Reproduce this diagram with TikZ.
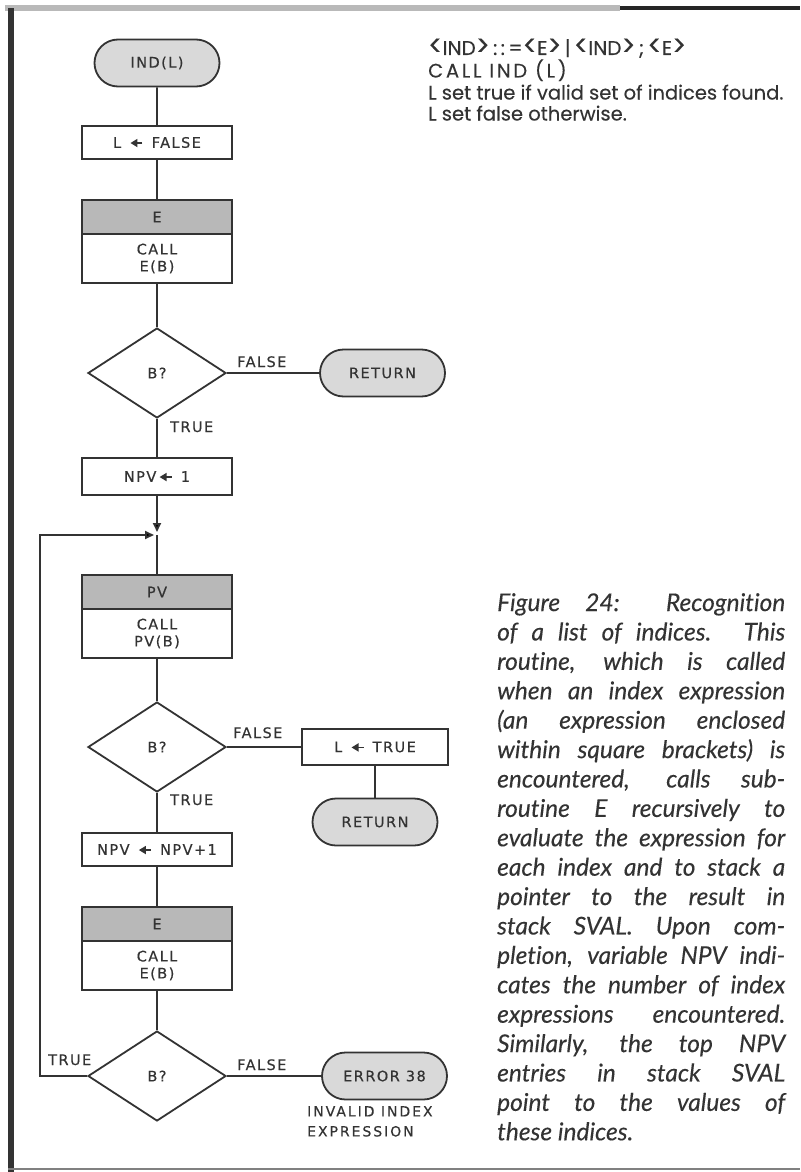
\documentclass[tikz,border=0pt]{standalone}
\usepackage{fontspec}
\usepackage{graphicx}
\usetikzlibrary{shapes.geometric,shapes.misc,arrows.meta}

\newfontfamily\chartfont{DejaVu Sans}[LetterSpace=10, FakeBold=0.4]
\newfontfamily\headfont{Poppins}[FakeBold=0.3]
\newfontfamily\capfont{Lato}[Ligatures=NoCommon, FakeBold=0.2]

\definecolor{ink}{gray}{0.2}
\definecolor{termgray}{gray}{0.85}
\definecolor{headgray}{gray}{0.72}

% small filled arrow used inside the boxes
\newcommand{\assign}{\,\tikz[baseline=-0.6ex]\draw[ink,line width=1.6pt,-{Triangle[length=7pt,width=8pt]}] (12pt,0pt) -- (0pt,0pt);\,}
% big angle brackets of the syntax line
\newcommand{\lang}{\raisebox{-0.04em}{\scalebox{1.3}[1.45]{<}}}
\newcommand{\rang}{\raisebox{-0.04em}{\scalebox{1.3}[1.45]{>}}}

\tikzset{
	chart/.style={font=\chartfont\fontsize{14.5}{17}\selectfont, text=ink},
	flow/.style={draw=ink, line width=1.8pt},
	proc/.style={chart, flow, fill=white, rectangle, minimum width=150pt, minimum height=35pt, inner sep=0pt, align=center},
	callhead/.style={proc, fill=headgray, minimum height=34pt},
	callbody/.style={proc, minimum height=49pt},
	term/.style={chart, flow, fill=termgray, rounded rectangle, minimum width=125pt, minimum height=47pt, inner sep=0pt},
	test/.style={chart, flow, fill=white, diamond, minimum width=138pt, minimum height=90pt, inner sep=0pt},
	flag/.style={chart, inner sep=0pt, anchor=base west},
	head/.style={font=\headfont\fontsize{19.5}{21}\selectfont, text=ink, inner sep=0pt, anchor=base west},
	tip/.style={-{Triangle[length=9pt,width=8pt]}, shorten >=3pt}
}

\begin{document}
\begin{tikzpicture}[x=1pt, y=-1pt]

	\fill[white] (0,0) rectangle (800,1172);
	% frame
	\fill[gray!55] (5,5) rectangle (620,11);
	\fill[black!85] (620,6) rectangle (800,10);
	\fill[black!80] (8,8) rectangle (14,1172);
	\draw[gray, line width=1.5pt] (8,1169) -- (800,1169);

	% header text
	\node[head, font=\headfont\fontsize{20}{21}\selectfont] (gram) at (428,55) {\lang IND\rang\,:\,:\,=\lang E\rang\,|\,\lang IND\rang\,;\,\lang E\rang};
	\node[head, font=\headfont\fontsize{19.5}{21}\selectfont\addfontfeature{LetterSpace=14}] (callind) at (428,77.5) {CALL IND (L)};
	\node[head] (noteone) at (428,99.5) {L set true if valid set of indices found.};
	\node[head] (notetwo) at (428,120.5) {L set false otherwise.};

	% first part
	\node[term] (start) at (157,63) {IND(L)};
	\node[proc, minimum height=33pt] (lfalse) at (157,142.5) {L \assign\ FALSE};
	\node[callhead] (ehead) at (157,217) {E};
	\node[callbody] (ecall) at (157,258.5) {CALL\\E(B)};
	\node[test] (bone) at (157,373) {B?};
	\node[term] (retone) at (382.5,373) {RETURN};
	\node[proc, minimum height=37pt] (npvone) at (157,476.5) {NPV\assign\ 1};
	\node[flag] (fone) at (237,367) {FALSE};
	\node[flag] (tone) at (170,432) {TRUE};
	\coordinate (merge) at (157,535);

	% loop
	\node[callhead] (pvhead) at (157,592) {PV};
	\node[callbody] (pvcall) at (157,633.5) {CALL\\PV(B)};
	\node[test] (btwo) at (157,747) {B?};
	\node[proc, minimum width=146pt, minimum height=36pt] (ltrue) at (375,747) {L \assign\ TRUE};
	\node[term] (rettwo) at (375,822) {RETURN};
	\node[flag] (ftwo) at (233,738) {FALSE};
	\node[flag] (ttwo) at (170,805) {TRUE};
	\node[proc, minimum height=33pt] (npvinc) at (157,849.5) {NPV \assign\ NPV+1};
	\node[callhead] (ehtwo) at (157,924) {E};
	\node[callbody] (ectwo) at (157,965.5) {CALL\\E(B)};
	\node[test] (bthree) at (157,1076) {B?};
	\node[term] (err) at (384.5,1076) {ERROR 38};
	\node[flag] (tthree) at (48,1065) {TRUE};
	\node[flag] (fthree) at (237,1070) {FALSE};
	\node[chart, align=left, inner sep=0pt, anchor=north west, font=\chartfont\fontsize{14}{20}\selectfont\addfontfeature{LetterSpace=14}] (errtext) at (307,1106) {INVALID INDEX\\EXPRESSION};

	% connectors
	\draw[flow] (start) -- (lfalse);
	\draw[flow] (lfalse) -- (ehead);
	\draw[flow] (ecall) -- (bone.north);
	\draw[flow] (bone.east) -- (retone.west);
	\draw[flow] (bone.south) -- (npvone.north);
	\draw[flow, tip] (npvone.south) -- (merge);
	\draw[flow] (merge) -- (pvhead.north);
	\draw[flow] (pvcall) -- (btwo.north);
	\draw[flow] (btwo.east) -- (ltrue.west);
	\draw[flow] (ltrue) -- (rettwo);
	\draw[flow] (btwo.south) -- (npvinc.north);
	\draw[flow] (npvinc) -- (ehtwo);
	\draw[flow] (ectwo) -- (bthree.north);
	\draw[flow] (bthree.east) -- (err.west);
	\draw[flow, tip] (bthree.west) -- ++(-47,0) |- (merge);

	% caption
	\node[anchor=north west, inner sep=0pt, text width=288pt, align=justify, text=ink,
		font=\capfont\itshape\fontsize{24.5}{29.4}\selectfont] (caption) at (497,593) {%
		Figure 24: Recognition\linebreak
		of a list of indices. This\linebreak
		routine, which is called\linebreak
		when an index expression\linebreak
		(an expression enclosed\linebreak
		within square brackets) is\linebreak
		encountered, calls sub-\linebreak
		routine E recursively to\linebreak
		evaluate the expression for\linebreak
		each index and to stack a\linebreak
		pointer to the result in\linebreak
		stack SVAL. Upon com-\linebreak
		pletion, variable NPV indi-\linebreak
		cates the number of index\linebreak
		expressions encountered.\linebreak
		Similarly, the top NPV\linebreak
		entries in stack SVAL\linebreak
		point to the values of\linebreak
		these indices.};
\end{tikzpicture}
\end{document}
